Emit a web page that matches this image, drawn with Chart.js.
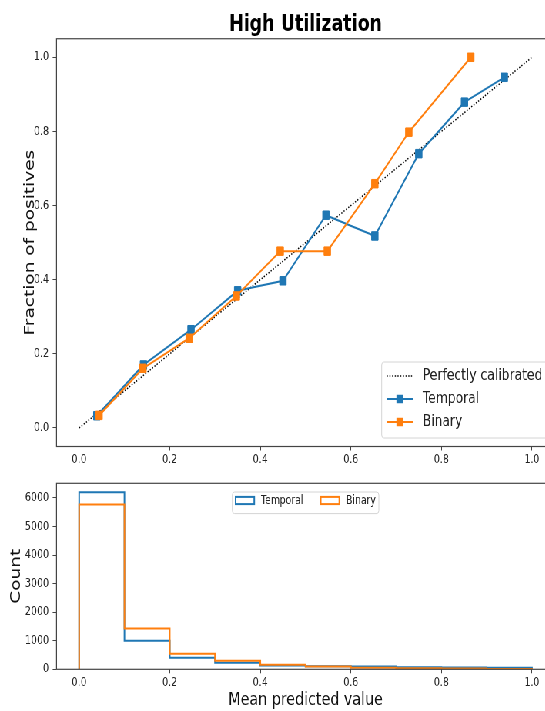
<!DOCTYPE html>
<html lang="en">
<head>
    <meta charset="UTF-8">
    <title>High Utilization</title>
    <script src="https://cdn.jsdelivr.net/npm/chart.js"></script>
    <style>
        body { margin: 0; overflow: hidden; background: #fff; }
        /* the reference figure is squeezed horizontally, so draw wide and squeeze */
        #wrap { position: absolute; left: 0; top: 0; width: 732px; height: 711px; transform: scaleX(0.77); transform-origin: 0 0; }
        #topBox { position: absolute; left: 0; top: 0; width: 732px; height: 475px; }
        #bottomBox { position: absolute; left: 0; top: 470px; width: 732px; height: 241px; }
    </style>
</head>
<body>
    <div id="wrap">
        <div id="topBox"><canvas id="calib"></canvas></div>
        <div id="bottomBox"><canvas id="hist"></canvas></div>
    </div>
    <script>
        // tick labels
        const calibTicks = [0, 0.2, 0.4, 0.6, 0.8, 1.0];
        const countTicks = [0, 1000, 2000, 3000, 4000, 5000, 6000];

        // calibration curves
        const perfectX = [0, 1];
        const perfectY = [0, 1];
        const temporalX = [0.039, 0.142, 0.247, 0.350, 0.450, 0.545, 0.653, 0.750, 0.851, 0.939];
        const temporalY = [0.033, 0.170, 0.265, 0.370, 0.397, 0.574, 0.518, 0.740, 0.879, 0.946];
        const binaryX = [0.044, 0.141, 0.243, 0.347, 0.444, 0.548, 0.653, 0.728, 0.865];
        const binaryY = [0.034, 0.161, 0.242, 0.356, 0.477, 0.477, 0.659, 0.798, 1.000];

        // histogram of predicted values
        const binEdges = [0, 0.1, 0.2, 0.3, 0.4, 0.5, 0.6, 0.7, 0.8, 0.9, 1.0];
        const temporalCounts = [6200, 1000, 400, 225, 130, 110, 95, 75, 60, 50];
        const binaryCounts = [5770, 1430, 540, 295, 160, 100, 50, 40, 25, 10];

        const BLUE = '#1f77b4';
        const ORANGE = '#ff7f0e';
        const FONT = 'DejaVu Sans';

        function points(xs, ys) {
            return xs.map((x, i) => ({ x: x, y: ys[i] }));
        }

        // outline of a step histogram (open at the bottom)
        function stepPoints(edges, counts) {
            const pts = [{ x: edges[0], y: 0 }];
            counts.forEach((c, i) => pts.push({ x: edges[i], y: c }));
            pts.push({ x: edges[edges.length - 1], y: 0 });
            return pts;
        }

        const frame = {
            id: 'frame',
            afterDraw(chart) {
                const { ctx, chartArea: a } = chart;
                ctx.save();
                ctx.strokeStyle = '#444';
                ctx.lineWidth = 1.2;
                ctx.strokeRect(a.left, a.top, a.right - a.left, a.bottom - a.top);
                ctx.restore();
            }
        };

        const boxLegend = {
            id: 'boxLegend',
            afterDraw(chart, args, o) {
                const { ctx, chartArea: a } = chart;
                const x0 = o.anchor === 'upperCenter' ? (a.left + a.right) / 2 - o.width / 2 : a.right - o.right - o.width;
                const y0 = o.anchor === 'upperCenter' ? a.top + o.top : a.bottom - o.bottom - o.height;
                ctx.save();
                ctx.beginPath();
                ctx.roundRect(x0, y0, o.width, o.height, 3);
                ctx.fillStyle = 'rgba(255,255,255,0.8)';
                ctx.fill();
                ctx.strokeStyle = '#d4d4d4';
                ctx.lineWidth = 1;
                ctx.stroke();
                ctx.font = o.size + 'px "' + FONT + '"';
                ctx.textBaseline = 'middle';
                chart.data.datasets.forEach((ds, i) => {
                    const hx = x0 + o.hx + i * o.dx;
                    const y = y0 + o.firstY + i * o.dy;
                    ctx.strokeStyle = ds.borderColor;
                    if (o.patch) {
                        ctx.setLineDash([]);
                        ctx.lineWidth = 2;
                        ctx.strokeRect(hx, y - 3.6, o.hw, 7.2);
                    } else {
                        ctx.setLineDash(ds.borderDash || []);
                        ctx.lineWidth = ds.borderWidth;
                        ctx.beginPath();
                        ctx.moveTo(hx, y);
                        ctx.lineTo(hx + o.hw, y);
                        ctx.stroke();
                        ctx.setLineDash([]);
                        if (ds.pointRadius > 0) {
                            const s = Math.SQRT2 * ds.pointRadius;
                            ctx.fillStyle = ds.borderColor;
                            ctx.fillRect(hx + o.hw / 2 - s / 2, y - s / 2, s, s);
                        }
                    }
                    ctx.fillStyle = '#222';
                    ctx.fillText(ds.label, x0 + o.tx + i * o.dx, y);
                });
                ctx.restore();
            }
        };

        function fixTicks(values) {
            return scale => { scale.ticks = values.map(v => ({ value: v })); };
        }

        const tickFont = { family: FONT, size: 12.2 };
        const labelFont = { family: FONT, size: 18.5 };

        new Chart(document.getElementById('calib'), {
            type: 'scatter',
            data: {
                datasets: [
                    {
                        label: 'Perfectly calibrated',
                        data: points(perfectX, perfectY),
                        showLine: true,
                        borderColor: '#000',
                        borderDash: [1.5, 2],
                        borderWidth: 1.5,
                        pointRadius: 0,
                        order: 3
                    },
                    {
                        label: 'Temporal',
                        data: points(temporalX, temporalY),
                        showLine: true,
                        borderColor: BLUE,
                        backgroundColor: BLUE,
                        borderWidth: 2,
                        pointStyle: 'rect',
                        pointRadius: 6,
                        pointBorderWidth: 1,
                        order: 2
                    },
                    {
                        label: 'Binary',
                        data: points(binaryX, binaryY),
                        showLine: true,
                        borderColor: ORANGE,
                        backgroundColor: ORANGE,
                        borderWidth: 2,
                        pointStyle: 'rect',
                        pointRadius: 6,
                        pointBorderWidth: 1,
                        order: 1
                    }
                ]
            },
            options: {
                responsive: true,
                maintainAspectRatio: false,
                animation: false,
                events: [],
                layout: { padding: { left: 0, right: 11.7, top: 0, bottom: 0 } },
                plugins: {
                    legend: { display: false },
                    tooltip: { enabled: false },
                    title: {
                        display: true,
                        text: 'High Utilization',
                        color: '#000',
                        fullSize: false,
                        font: { family: FONT, size: 22.7, weight: 'bold' },
                        padding: { top: 11.5, bottom: 0 }
                    },
                    boxLegend: {
                        anchor: 'lowerRight', right: 9.3, bottom: 8.5, width: 215.3, height: 76,
                        hx: 6.5, hw: 33.8, tx: 53.3, firstY: 14, dx: 0, dy: 23, size: 16
                    }
                },
                scales: {
                    x: {
                        type: 'linear',
                        min: -0.05,
                        max: 1.05,
                        afterBuildTicks: fixTicks(calibTicks),
                        afterFit: s => { s.height = 28.5; },
                        grid: { drawOnChartArea: false, tickLength: 4, color: '#444' },
                        border: { display: false },
                        ticks: { font: tickFont, color: '#222', padding: 2, maxRotation: 0, callback: v => v.toFixed(1) }
                    },
                    y: {
                        min: -0.05,
                        max: 1.05,
                        afterBuildTicks: fixTicks(calibTicks),
                        afterFit: s => { s.width = 73.4; },
                        grid: { drawOnChartArea: false, tickLength: 5, color: '#444' },
                        border: { display: false },
                        ticks: { font: tickFont, color: '#222', padding: 5, callback: v => v.toFixed(1) },
                        title: { display: true, text: 'Fraction of positives', font: labelFont, color: '#111', padding: { top: 27.9, bottom: 0 } }
                    }
                }
            },
            plugins: [frame, boxLegend]
        });

        new Chart(document.getElementById('hist'), {
            type: 'scatter',
            data: {
                datasets: [
                    {
                        label: 'Temporal',
                        data: stepPoints(binEdges, temporalCounts),
                        showLine: true,
                        stepped: 'before',
                        borderColor: BLUE,
                        borderWidth: 2,
                        pointRadius: 0,
                        order: 2
                    },
                    {
                        label: 'Binary',
                        data: stepPoints(binEdges, binaryCounts),
                        showLine: true,
                        stepped: 'before',
                        borderColor: ORANGE,
                        borderWidth: 2,
                        pointRadius: 0,
                        order: 1
                    }
                ]
            },
            options: {
                responsive: true,
                maintainAspectRatio: false,
                animation: false,
                events: [],
                layout: { padding: { left: 0, right: 11.7, top: 13.3, bottom: 0 } },
                plugins: {
                    legend: { display: false },
                    tooltip: { enabled: false },
                    boxLegend: {
                        anchor: 'upperCenter', top: 8.7, width: 190.3, height: 21.6, patch: true,
                        hx: 4.3, hw: 24.2, tx: 37.3, firstY: 8.5, dx: 110.5, dy: 0, size: 12
                    }
                },
                scales: {
                    x: {
                        type: 'linear',
                        min: -0.05,
                        max: 1.05,
                        afterBuildTicks: fixTicks(calibTicks),
                        afterFit: s => { s.height = 41.7; },
                        grid: { drawOnChartArea: false, tickLength: 4, color: '#444' },
                        border: { display: false },
                        ticks: { font: tickFont, color: '#222', padding: 2, maxRotation: 0, callback: v => v.toFixed(1) },
                        title: { display: true, text: 'Mean predicted value', font: labelFont, color: '#111', padding: { top: 0, bottom: 0 } }
                    },
                    y: {
                        min: 0,
                        max: Math.max(...temporalCounts, ...binaryCounts) * 1.05,
                        afterBuildTicks: fixTicks(countTicks),
                        afterFit: s => { s.width = 73.4; },
                        grid: { drawOnChartArea: false, tickLength: 5, color: '#444' },
                        border: { display: false },
                        ticks: { font: tickFont, color: '#222', padding: 5, callback: v => String(v) },
                        title: { display: true, text: 'Count', font: labelFont, color: '#111', padding: { top: 10.3, bottom: 0 } }
                    }
                }
            },
            plugins: [frame, boxLegend]
        });
    </script>
</body>
</html>
